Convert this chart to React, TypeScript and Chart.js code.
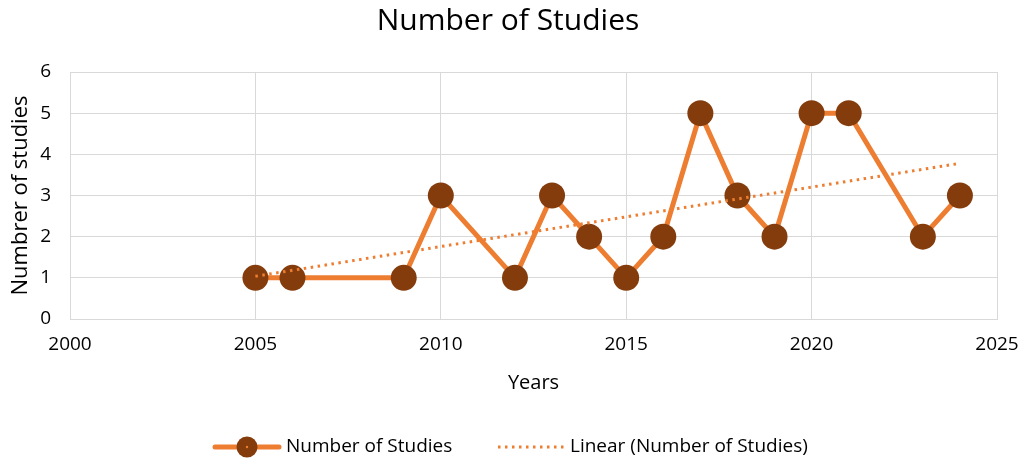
import React, { useEffect, useRef } from "react";
import { Chart, registerables } from "chart.js";

Chart.register(...registerables);

const years = [2005, 2006, 2009, 2010, 2012, 2013, 2014, 2015, 2016, 2017, 2018, 2019, 2020, 2021, 2023, 2024];
const studies = [1, 1, 1, 3, 1, 3, 2, 1, 2, 5, 3, 2, 5, 5, 2, 3];
const xTicks = [2000, 2005, 2010, 2015, 2020, 2025];
const yTicks = [0, 1, 2, 3, 4, 5, 6];

const FONT = "'Open Sans', sans-serif";
const ORANGE = "#ED7D31";
const BROWN = "#843C0C";

function linearFit(xs: number[], ys: number[]) {
  const n = xs.length;
  const mx = xs.reduce((a, b) => a + b, 0) / n;
  const my = ys.reduce((a, b) => a + b, 0) / n;
  let sxy = 0, sxx = 0;
  for (let i = 0; i < n; i++) {
    sxy += (xs[i] - mx) * (ys[i] - my);
    sxx += (xs[i] - mx) * (xs[i] - mx);
  }
  const b = sxy / sxx;
  const a = my - b * mx;
  return (x: number) => a + b * x;
}

export default function App() {
  const ref = useRef<HTMLCanvasElement>(null);
  useEffect(() => {
    if (!ref.current) return;
    const fit = linearFit(years, studies);
    const x0 = years[0];
    const x1 = years[years.length - 1];

    const chromePlugin = {
      id: "chrome",
      afterDraw(chart: any) {
        const ctx = chart.ctx as CanvasRenderingContext2D;
        ctx.save();
        // title
        ctx.fillStyle = "#000";
        ctx.font = `30px ${FONT}`;
        ctx.textAlign = "center";
        ctx.textBaseline = "middle";
        ctx.fillText("Number of Studies", 508, 21);
        // legend
        const ly = 447;
        ctx.strokeStyle = ORANGE;
        ctx.lineWidth = 5;
        ctx.lineCap = "round";
        ctx.beginPath();
        ctx.moveTo(215, ly);
        ctx.lineTo(279, ly);
        ctx.stroke();
        ctx.fillStyle = BROWN;
        ctx.beginPath();
        ctx.arc(247, ly, 10.5, 0, Math.PI * 2);
        ctx.fill();
        ctx.fillStyle = ORANGE;
        ctx.beginPath();
        ctx.arc(247, ly, 1.2, 0, Math.PI * 2);
        ctx.fill();
        ctx.fillStyle = "#000";
        ctx.font = `19px ${FONT}`;
        ctx.textAlign = "left";
        ctx.fillText("Number of Studies", 286, ly);
        ctx.strokeStyle = ORANGE;
        ctx.lineWidth = 3;
        ctx.lineCap = "butt";
        ctx.setLineDash([2.5, 4.5]);
        ctx.beginPath();
        ctx.moveTo(498, ly);
        ctx.lineTo(564, ly);
        ctx.stroke();
        ctx.setLineDash([]);
        ctx.fillText("Linear (Number of Studies)", 570, ly);
        ctx.restore();
      },
    };

    const chart = new Chart(ref.current, {
      type: "line",
      data: {
        datasets: [
          {
            label: "Linear (Number of Studies)",
            data: [
              { x: x0, y: fit(x0) },
              { x: x1, y: fit(x1) },
            ],
            borderColor: ORANGE,
            borderWidth: 3,
            borderDash: [2.5, 4.5],
            pointRadius: 0,
            fill: false,
            order: 0,
          },
          {
            label: "Number of Studies",
            data: years.map((y, i) => ({ x: y, y: studies[i] })),
            borderColor: ORANGE,
            borderWidth: 5,
            pointRadius: 13,
            pointBackgroundColor: BROWN,
            pointBorderColor: BROWN,
            pointBorderWidth: 0,
            tension: 0,
            fill: false,
            order: 1,
          },
        ],
      },
      options: {
        animation: false,
        responsive: false,
        maintainAspectRatio: false,
        layout: { padding: { top: 72, left: 0, right: 27, bottom: 61 } },
        plugins: {
          legend: { display: false },
          title: { display: false },
          tooltip: { enabled: false },
        },
        scales: {
          x: {
            type: "linear",
            min: 2000,
            max: 2025,
            afterBuildTicks: (s: any) => {
              s.ticks = xTicks.map((v) => ({ value: v }));
            },
            afterFit: (s: any) => {
              s.height = 80;
              s.paddingLeft = 0;
              s.paddingRight = 0;
            },
            grid: { color: "#d9d9d9", lineWidth: 1, drawTicks: false },
            border: { color: "#d9d9d9" },
            ticks: {
              color: "#000",
              font: { family: FONT, size: 19 },
              padding: 14,
              callback: (v: any) => String(v),
            },
            title: {
              display: true,
              text: "Years",
              color: "#000",
              font: { family: FONT, size: 20 },
              padding: { top: 6 },
            },
          },
          y: {
            min: 0,
            max: 6,
            afterBuildTicks: (s: any) => {
              s.ticks = yTicks.map((v) => ({ value: v }));
            },
            afterFit: (s: any) => {
              s.width = 70;
              s.paddingTop = 0;
              s.paddingBottom = 0;
            },
            grid: { color: "#d9d9d9", lineWidth: 1, drawTicks: false },
            border: { color: "#d9d9d9" },
            ticks: {
              color: "#000",
              font: { family: FONT, size: 19 },
              padding: 19,
            },
            title: {
              display: true,
              text: "Numbrer of studies",
              color: "#000",
              font: { family: FONT, size: 22 },
              padding: { top: 8, bottom: 0 },
            },
          },
        },
      },
      plugins: [chromePlugin],
    });
    return () => chart.destroy();
  }, []);

  return (
    <div style={{ position: "absolute", left: 0, top: 0, width: 1024, height: 460, background: "#fff" }}>
      <canvas ref={ref} width={1024} height={460} style={{ width: 1024, height: 460, display: "block" }} />
    </div>
  );
}
